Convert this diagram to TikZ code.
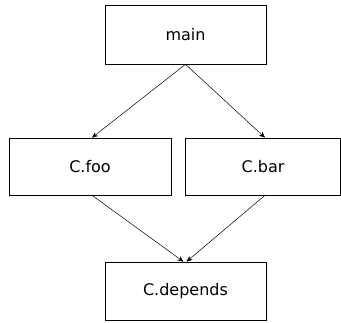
\documentclass[tikz,border=0pt]{standalone}
\usepackage{fontspec}
\setmainfont{DejaVu Sans}
\usetikzlibrary{arrows.meta}
\begin{document}
\begin{tikzpicture}[x=1pt,y=1pt,
    box/.style={draw,line width=0.6pt,inner sep=0pt,font=\fontsize{16}{19}\selectfont}]
      \useasboundingbox (0,0) rectangle (341,323);
      \draw
        (185.5,288.5) node[box,minimum width=161pt,minimum height=59pt] (main){main}
        (90,156.5) node[box,minimum width=162pt,minimum height=57pt] (foo){C.foo}
        (263,156.5) node[box,minimum width=155pt,minimum height=57pt] (bar){C.bar}
        (185.5,32) node[box,minimum width=161pt,minimum height=58pt] (depends){C.depends};
      \begin{scope}[-{Stealth[length=6pt,width=5pt]},line width=0.5pt]
        \draw (main.south) to ([xshift=2pt]foo.north);
        \draw (main.south) to ([xshift=2pt]bar.north);
        \draw ([xshift=2pt]foo.south) to ([xshift=-2pt]depends.north);
        \draw ([xshift=2pt]bar.south) to ([xshift=1pt]depends.north);
      \end{scope}
    \end{tikzpicture}
\end{document}
